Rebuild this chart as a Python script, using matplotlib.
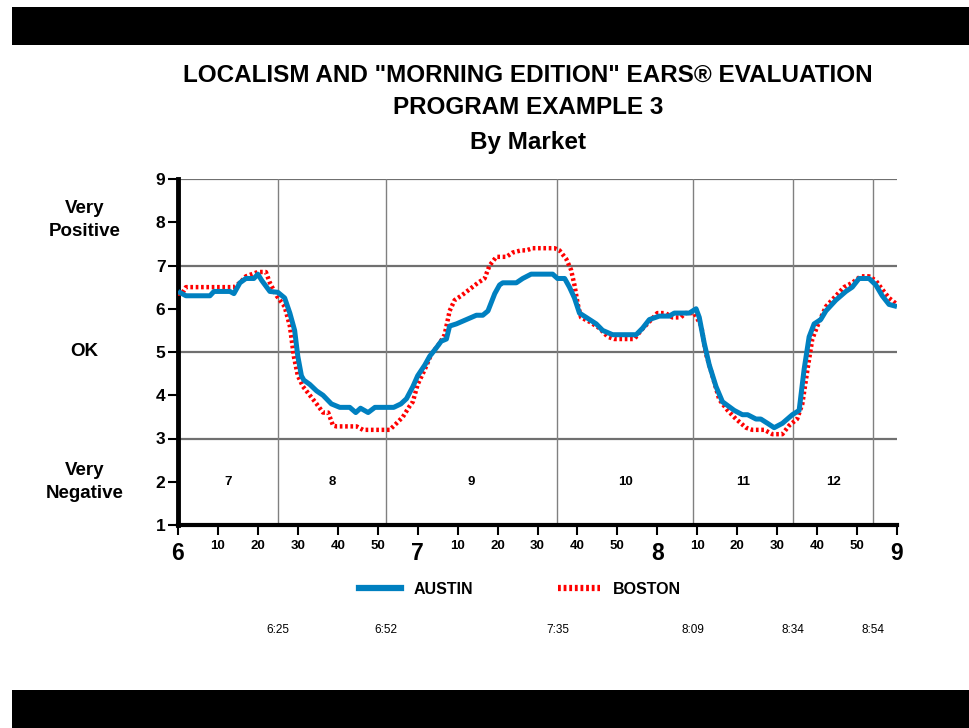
import matplotlib
matplotlib.use("Agg")
import matplotlib.pyplot as plt
from matplotlib.patches import Rectangle
from matplotlib.lines import Line2D
from matplotlib.ticker import FixedLocator, FixedFormatter

plt.rcParams['font.family'] = ['Liberation Sans', 'DejaVu Sans']
plt.rcParams['font.weight'] = 'bold'

#%% Data (minutes after 6:00)
austin_min = [0, 2, 8, 9, 13, 14, 15.5, 17, 19, 20, 21, 23, 25, 26.7, 28, 29.2, 30, 30.9,
              31.5, 33, 34.7, 36.3, 38.4, 40.5, 43, 44.5, 45.7, 47.6, 49.3, 54, 55.8, 57.2,
              58.8, 60, 61.8, 63, 64.7, 65.9, 67.2, 68, 69.7, 72.2, 74.7, 76.3, 77.6, 79.3,
              80.5, 81.3, 84.7, 86.3, 88.4, 93.8, 95, 96.8, 98, 99.25, 100.5, 102.2, 104.7,
              106.3, 108.8, 114.7, 116.3, 118, 120.5, 123, 124.25, 128, 129.7, 130.5,
              131.75, 133, 134.7, 136.3, 139.25, 141.3, 142.6, 144.7, 145.9, 147.6, 149.25,
              151.3, 153.8, 155.5, 156.75, 158, 159.25, 160.9, 162.2, 164.7, 167.2, 168.8,
              170.5, 173, 174.7, 176.3, 178, 180]
austin_val = [6.4, 6.3, 6.3, 6.4, 6.4, 6.35, 6.6, 6.7, 6.7, 6.8, 6.65, 6.4, 6.38, 6.25, 5.9, 5.5, 4.9, 4.45,
              4.35, 4.25, 4.1, 4.0, 3.8, 3.72, 3.72, 3.6, 3.7, 3.6, 3.72, 3.72, 3.8, 3.92,
              4.2, 4.45, 4.7, 4.9, 5.1, 5.25, 5.3, 5.6, 5.65, 5.75, 5.85, 5.85, 5.95, 6.35,
              6.55, 6.6, 6.6, 6.7, 6.8, 6.8, 6.7, 6.7, 6.5, 6.25, 5.9, 5.8, 5.65,
              5.5, 5.4, 5.4, 5.55, 5.75, 5.83, 5.83, 5.9, 5.9, 6.0, 5.8,
              5.2, 4.7, 4.2, 3.85, 3.65, 3.55, 3.55, 3.45, 3.45, 3.35, 3.25,
              3.35, 3.55, 3.65, 4.6, 5.35, 5.65, 5.75, 5.95, 6.2, 6.4, 6.5,
              6.7, 6.7, 6.55, 6.3, 6.1, 6.05]

boston_min = [0, 1, 2, 14, 15.5, 17, 20, 22, 23, 24.7, 26.7, 28, 29, 30, 31.3, 33, 34.7, 36.3,
              37.6, 38.8, 39.7, 44.7, 46.3, 53, 54.7, 56.3, 58, 58.8, 60, 61.8, 63.4, 65.5,
              66.75, 68, 69.25, 70.9, 73, 75.1, 76.75, 78, 79.7, 82.2, 83.8, 85.9, 87.2, 88.8,
              94.25, 95.5, 97.2, 98.4, 99.25, 100.1, 100.9, 103, 105.5, 107.6, 109.25, 114.25,
              115.9, 118, 120, 122, 123.8, 125.9, 127, 129.25, 131, 132.2, 133.8, 135.5,
              137.6, 139.7, 142.2, 143.8, 146.75, 148.8, 151.3, 153, 155, 156.3, 157.6, 158.8,
              160.5, 162.2, 164.7, 166.75, 168.8, 170.9, 173, 174.7, 176.3, 178, 180]
boston_val = [6.35, 6.35, 6.5, 6.5, 6.6, 6.75, 6.85, 6.85, 6.6, 6.3, 6.05, 5.6, 4.9, 4.45, 4.2, 4.0, 3.8, 3.6,
              3.6, 3.3, 3.28, 3.28, 3.2, 3.2, 3.35, 3.5, 3.75, 3.85, 4.25, 4.6, 4.95, 5.2,
              5.4, 5.95, 6.2, 6.3, 6.45, 6.6, 6.7, 7.0, 7.2, 7.2, 7.3, 7.35, 7.35, 7.4,
              7.4, 7.35, 7.15, 6.9, 6.55, 6.1, 5.8, 5.7, 5.55, 5.35, 5.3, 5.3,
              5.5, 5.7, 5.9, 5.9, 5.8, 5.8, 5.9, 5.9, 5.6, 4.95, 4.45, 3.9,
              3.65, 3.45, 3.25, 3.2, 3.2, 3.1, 3.1, 3.3, 3.45, 3.8, 4.6, 5.3,
              5.7, 6.05, 6.3, 6.5, 6.6, 6.75, 6.75, 6.65, 6.45, 6.25, 6.1]

# program segments: boundaries and numbers
seg_bounds = [0, 25, 52, 95, 129, 154, 174, 180]
seg_labels = ['7', '8', '9', '10', '11', '12', '']
seg_times = ['6:25', '6:52', '7:35', '8:09', '8:34', '8:54']

hour_ticks = [0, 60, 120, 180]
hour_labels = ['6', '7', '8', '9']
minute_ticks = [m for m in range(10, 180, 10) if m % 60 != 0]
minute_labels = [str(m % 60) for m in minute_ticks]

#%% Figure
fig = plt.figure(figsize=(9.69, 7.28), dpi=100)
# black bars top and bottom
fig.add_artist(Rectangle((12/969, 1-45/728), 1-12/969, 38/728, transform=fig.transFigure,
                         facecolor='black', edgecolor='none'))
fig.add_artist(Rectangle((12/969, 0), 1-12/969, 38/728, transform=fig.transFigure,
                         facecolor='black', edgecolor='none'))

ax = fig.add_axes([178/969, 1-525/728, 719/969, 346/728])
ax.set_xlim(0, 180)
ax.set_ylim(1, 9)

# grid
for yv in [3, 5, 7, 9]:
    ax.axhline(yv, color='#707070', lw=1.6, zorder=1)
for b in seg_bounds[1:-1]:
    ax.axvline(b, color='#808080', lw=1.0, zorder=1)

ax.plot(boston_min, boston_val, color='#ff0000', lw=3.2, dashes=(0.6, 0.6), zorder=3,
        label='BOSTON')
ax.plot(austin_min, austin_val, color='#0080c0', lw=3.6, zorder=4, solid_capstyle='butt',
        label='AUSTIN')

# segment numbers
for i in range(len(seg_labels)):
    mid = (seg_bounds[i] + seg_bounds[i+1]) / 2
    ax.text(mid, 2, seg_labels[i], ha='center', va='center', fontsize=9.5, fontweight='bold')
for b, t in zip(seg_bounds[1:-1], seg_times):
    ax.text(b, -0.303, t, transform=ax.get_xaxis_transform(), ha='center', va='center',
            fontsize=8.5, fontweight='normal')

# spines
for s in ['top', 'right']:
    ax.spines[s].set_visible(False)
ax.spines['left'].set_linewidth(3.5)
ax.spines['bottom'].set_linewidth(3)

ax.set_yticks(range(1, 10))
ax.tick_params(axis='y', direction='out', length=7, width=1.5, labelsize=12.5, pad=2)
for lab in ax.get_yticklabels():
    lab.set_fontweight('bold')

ax.xaxis.set_major_locator(FixedLocator(hour_ticks))
ax.xaxis.set_major_formatter(FixedFormatter(hour_labels))
ax.xaxis.set_minor_locator(FixedLocator(minute_ticks))
ax.xaxis.set_minor_formatter(FixedFormatter(minute_labels))
ax.tick_params(axis='x', which='major', direction='out', length=7, width=1.5,
               labelsize=16.5, pad=5)
ax.tick_params(axis='x', which='minor', direction='out', length=7, width=1.5,
               labelsize=9.5, pad=4)
for lab in ax.get_xticklabels(which='both'):
    lab.set_fontweight('bold')

# side descriptors
ax.text(-0.13, 8.05, 'Very\nPositive', transform=ax.get_yaxis_transform(), ha='center',
        va='center', fontsize=13.5, fontweight='bold', linespacing=1.45)
ax.text(-0.13, 5, 'OK', transform=ax.get_yaxis_transform(), ha='center',
        va='center', fontsize=13.5, fontweight='bold')
ax.text(-0.13, 2, 'Very\nNegative', transform=ax.get_yaxis_transform(), ha='center',
        va='center', fontsize=13.5, fontweight='bold', linespacing=1.45)

# titles
fig.text(528/969, 1-75/728, 'LOCALISM AND "MORNING EDITION" EARS\u00ae EVALUATION',
         ha='center', va='center', fontsize=17.5, fontweight='bold')
fig.text(528/969, 1-108/728, 'PROGRAM EXAMPLE 3', ha='center', va='center',
         fontsize=17.5, fontweight='bold')
fig.text(528/969, 1-143/728, 'By Market', ha='center', va='center',
         fontsize=17.5, fontweight='bold')

# legend
handles = [Line2D([], [], color='#0080c0', lw=4.5),
           Line2D([], [], color='#ff0000', lw=4.5, dashes=(0.45, 0.45))]
leg = fig.legend(handles, ['AUSTIN', 'BOSTON'], loc='center', bbox_to_anchor=(520/969, 1-589/728),
                 ncol=2, frameon=False, handlelength=2.6, columnspacing=5.3, handletextpad=0.8,
                 prop={'weight': 'bold', 'size': 11.5})

fig.savefig('out.png', dpi=100)
